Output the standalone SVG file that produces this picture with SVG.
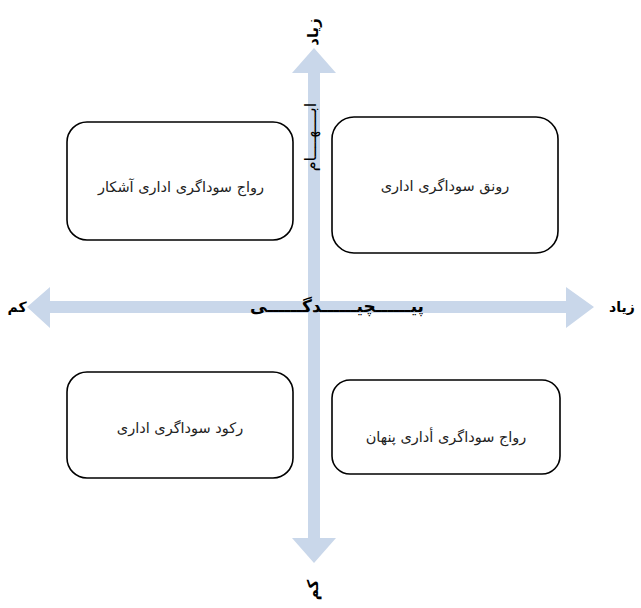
<svg xmlns="http://www.w3.org/2000/svg" width="641" height="608" viewBox="0 0 641 608">
<style>
.box{fill:#fff;stroke:#000;stroke-width:1.6}
.t{font-family:"DejaVu Sans",sans-serif;font-size:14.5px;fill:#222;text-anchor:middle}
.ax{font-family:"DejaVu Sans",sans-serif;font-size:15px;font-weight:bold;fill:#000;text-anchor:middle}
.arr{fill:#c9d7ea}
</style>
<rect width="641" height="608" fill="#fff"/>
<g id="connectors">
<path class="arr" d="M308 73 L292 73 L314 48 L336 73 L320 73 L320 538 L336 538 L314 563 L292 538 L308 538 Z"/>
<path class="arr" d="M50 301 L50 287 L27 307 L50 328 L50 313 L566 313 L566 328 L594 307 L566 287 L566 301 Z"/>
</g>
<g id="axis-labels">
<text class="ax" transform="translate(318,32) rotate(-90)">زیاد</text>
<text class="ax" transform="translate(318,590) rotate(-90)">کم</text>
<text class="ax" transform="translate(316,137) rotate(-90)" style="font-weight:normal;font-size:16px">ابــــهــــام</text>
<text class="ax" x="337" y="312" style="font-size:17px">پیــــــچیــــــدگــــــی</text>
<text class="ax" x="17" y="312" style="font-size:14px">کم</text>
<text class="ax" x="622" y="312" style="font-size:14px">زیاد</text>
</g>
<g id="n1">
<rect class="box" x="67" y="122" width="226" height="118" rx="20"/>
<text class="t" x="181" y="192">رواج سوداگری اداری  آشکار</text>
</g>
<g id="n2">
<rect class="box" x="332" y="117" width="226" height="136" rx="22"/>
<text class="t" x="445" y="191">رونق سوداگری اداری</text>
</g>
<g id="n3">
<rect class="box" x="67" y="372" width="226" height="106" rx="20"/>
<text class="t" x="180" y="433">رکود سوداگری اداری</text>
</g>
<g id="n4">
<rect class="box" x="332" y="380" width="228" height="94" rx="18"/>
<text class="t" x="446" y="442">رواج سوداگری أداری پنهان</text>
</g>
</svg>
